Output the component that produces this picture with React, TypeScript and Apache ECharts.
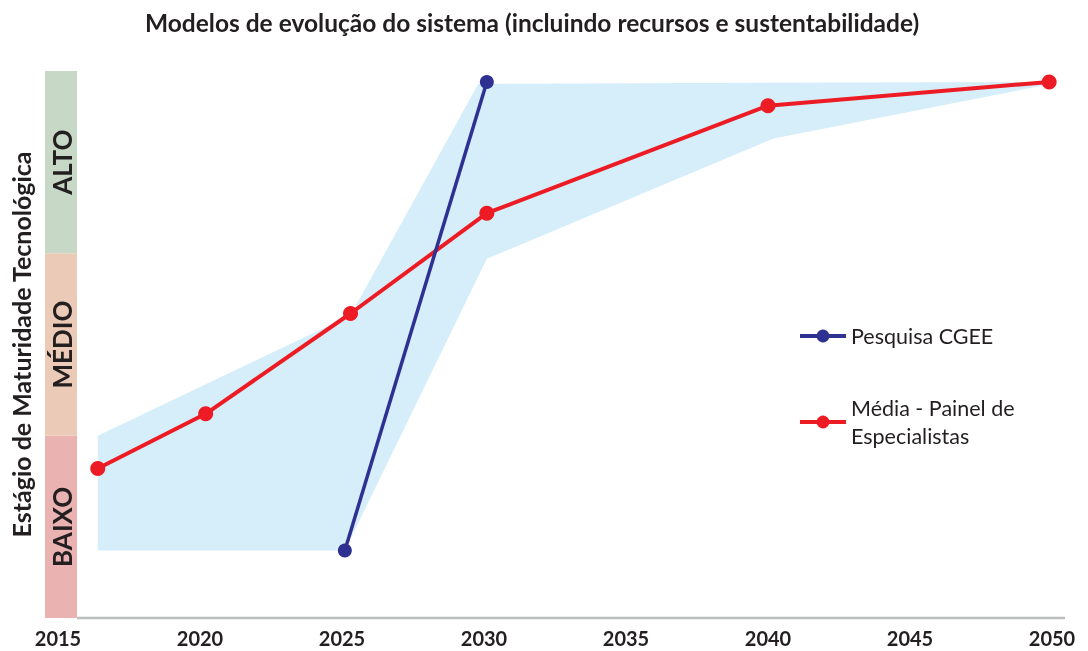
import React, { useEffect, useRef } from "react";
import * as echarts from "echarts";

const TITLE = "Modelos de evolução do sistema (incluindo recursos e sustentabilidade)";
const Y_NAME = "Estágio de Maturidade Tecnológica";
const X_TICKS_MIN = 2015;
const X_TICKS_MAX = 2050;
const X_TICK_STEP = 5;

const levelBands: [number, number, string, string][] = [
  [0, 1, "BAIXO", "#eab3b2"],
  [1, 2, "MÉDIO", "#ebcbb7"],
  [2, 3, "ALTO", "#c7d9c6"],
];

const redName = "Média - Painel de\nEspecialistas";
const redYears = [2016.4, 2020.2, 2025.3, 2030.1, 2040.0, 2049.9];
const redValues = [0.82, 1.12, 1.67, 2.22, 2.81, 2.94];

const blueName = "Pesquisa CGEE";
const blueYears = [2025.1, 2030.1];
const blueValues = [0.37, 2.94];

const bandUpper: [number, number][] = [
  [2016.4, 1.0],
  [2025.3, 1.66],
  [2029.8, 2.93],
  [2050.0, 2.94],
];
const bandLower: [number, number][] = [
  [2016.4, 0.37],
  [2025.1, 0.37],
  [2030.1, 1.97],
  [2040.2, 2.63],
  [2050.0, 2.93],
];

const FONT = "Lato";
const TEXT = "#231f20";

export default function App() {
  const ref = useRef<HTMLDivElement>(null);
  useEffect(() => {
    if (!ref.current) return;
    const chart = echarts.init(ref.current, undefined, { renderer: "svg" });
    const polygonPts = [...bandUpper, ...bandLower.slice().reverse()];
    chart.setOption({
      animation: false,
      textStyle: { fontFamily: FONT },
      title: {
        text: TITLE,
        left: 140,
        top: 5,
        textStyle: { fontFamily: FONT, fontWeight: "bold", fontSize: 24.5, color: TEXT },
      },
      grid: { left: 58, right: 36, top: 71, bottom: 33, outerBoundsMode: "none", containLabel: false },
      legend: {
        data: [blueName, redName],
        orient: "vertical",
        left: 793,
        top: 317,
        itemWidth: 46,
        itemHeight: 16,
        itemGap: 44,
        lineStyle: { width: 4 },
        textStyle: { fontFamily: FONT, fontSize: 21.5, color: TEXT, lineHeight: 28 },
      },
      xAxis: {
        type: "value",
        min: X_TICKS_MIN,
        max: X_TICKS_MAX,
        interval: X_TICK_STEP,
        axisLine: { show: false },
        axisTick: { show: false },
        splitLine: { show: false },
        axisLabel: {
          margin: 10,
          fontFamily: FONT,
          fontWeight: "bold",
          fontSize: 20,
          color: TEXT,
          formatter: (v: number) => String(v),
        },
      },
      yAxis: {
        type: "value",
        min: 0,
        max: 3,
        interval: 1,
        axisLine: { show: false },
        axisTick: { show: false },
        splitLine: { show: false },
        axisLabel: { show: false },
        name: Y_NAME,
        nameLocation: "middle",
        nameRotate: 90,
        nameGap: 25,
        nameTextStyle: { fontFamily: FONT, fontWeight: "bold", fontSize: 25, color: TEXT },
      },
      graphic: [
        {
          type: "line",
          shape: { x1: 77, y1: 618, x2: 1065, y2: 618 },
          style: { stroke: "#bcbec0", lineWidth: 2.5 },
          z: 1,
        },
      ],
      series: [
        {
          type: "custom",
          name: "band",
          clip: false,
          silent: true,
          z: 1,
          data: [[X_TICKS_MIN, 0]],
          renderItem: (_params: any, api: any) => {
            const pts = polygonPts.map((p) => api.coord(p));
            return {
              type: "polygon",
              shape: { points: pts },
              style: { fill: "#d5eefa", stroke: "none" },
            };
          },
        },
        {
          type: "custom",
          name: "levels",
          clip: false,
          silent: true,
          z: 2,
          data: levelBands.map((b) => [X_TICKS_MIN, b[0], b[1]]),
          renderItem: (params: any, api: any) => {
            const b = levelBands[params.dataIndex];
            const p0 = api.coord([X_TICKS_MIN, b[0]]);
            const p1 = api.coord([X_TICKS_MIN, b[1]]);
            const x = p0[0] - 13;
            const w = 32;
            return {
              type: "group",
              children: [
                {
                  type: "rect",
                  shape: { x, y: p1[1], width: w, height: p0[1] - p1[1] },
                  style: { fill: b[3] },
                },
                {
                  type: "text",
                  x: x + w / 2 + 1,
                  y: (p0[1] + p1[1]) / 2,
                  rotation: Math.PI / 2,
                  style: {
                    text: b[2],
                    fontFamily: FONT,
                    fontWeight: "bold",
                    fontSize: 26,
                    fill: TEXT,
                    align: "center",
                    verticalAlign: "middle",
                  },
                },
              ],
            };
          },
        },
        {
          type: "line",
          name: redName,
          z: 3,
          data: redYears.map((x, i) => [x, redValues[i]]),
          symbol: "circle",
          symbolSize: 15,
          lineStyle: { color: "#ed1c24", width: 4 },
          itemStyle: { color: "#ed1c24" },
        },
        {
          type: "line",
          name: blueName,
          z: 4,
          data: blueYears.map((x, i) => [x, blueValues[i]]),
          symbol: "circle",
          symbolSize: 14,
          lineStyle: { color: "#2e3192", width: 3.5 },
          itemStyle: { color: "#2e3192" },
        },
      ],
    });
    return () => chart.dispose();
  }, []);
  return (
    <div
      ref={ref}
      style={{ position: "fixed", left: 0, top: 0, width: 1088, height: 651 }}
    />
  );
}
